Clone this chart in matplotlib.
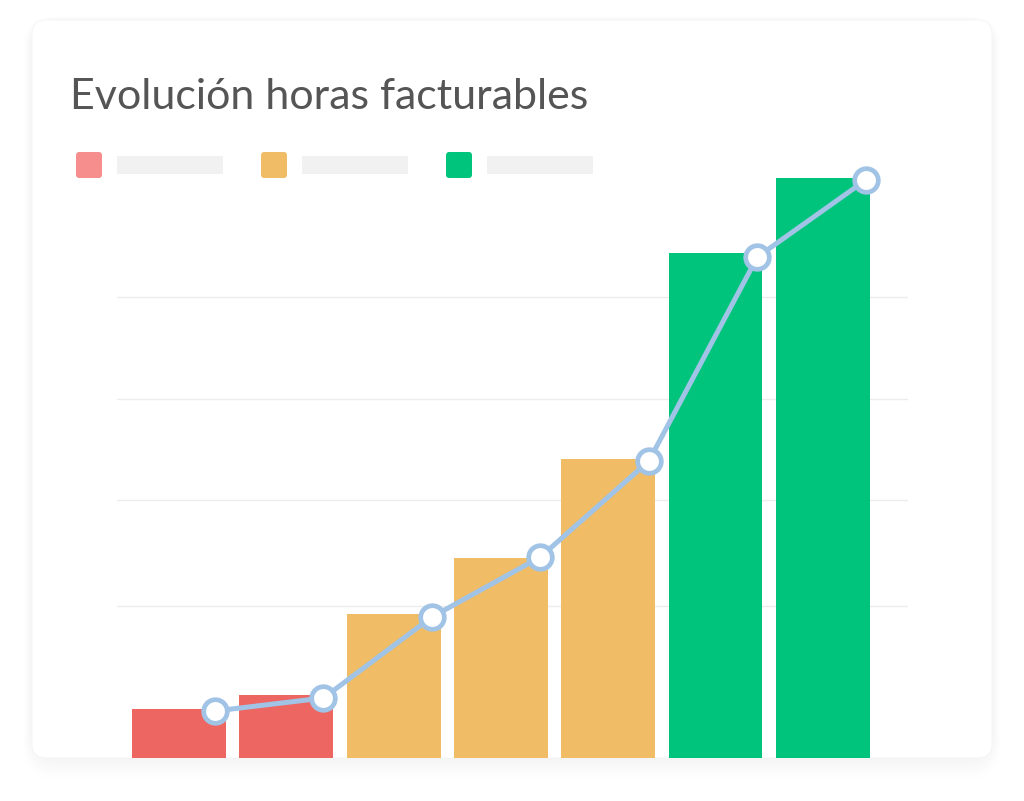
import matplotlib
matplotlib.use("Agg")
import matplotlib.pyplot as plt
from matplotlib.patches import FancyBboxPatch
import numpy as np

W, H = 1024, 801

# data (arbitrary units)
title = "Evolución horas facturables"
bar_values = [49, 63, 144, 200, 299, 505, 580]
line_values = [47, 60, 141, 201, 297, 501, 578]
bar_colors = ["#ee6661", "#ee6661", "#f0bd66", "#f0bd66", "#f0bd66", "#00c47c", "#00c47c"]
legend_colors = ["#f58e8c", "#f0bd66", "#00c47c"]
grid_levels = [152, 258, 359, 461]


def fx(px):
    return px / W


def fy(py):
    return 1 - py / H


fig = plt.figure(figsize=(W / 100, H / 100), dpi=100)
fig.patch.set_facecolor("white")

# card shadow + card (behind the axes)
for i, a in enumerate([0.004, 0.005, 0.006, 0.007, 0.008, 0.009]):
    grow = 18 - 3 * i
    sh = FancyBboxPatch((fx(32 - grow * 0.5), fy(758 + grow * 1.2)), fx(960 + grow), (738 + grow * 1.4) / H,
                        boxstyle="round,pad=0,rounding_size=0.03", transform=fig.transFigure,
                        facecolor="black", edgecolor="none", alpha=a, mutation_aspect=W / H, zorder=-3)
    fig.patches.append(sh)
card = FancyBboxPatch((fx(32), fy(758)), fx(960), 738 / H,
                      boxstyle="round,pad=0,rounding_size=0.014", transform=fig.transFigure,
                      facecolor="white", edgecolor="#f5f5f5", linewidth=0.6, mutation_aspect=W / H,
                      zorder=-2)
fig.patches.append(card)

fig.text(fx(70), fy(97), title, fontsize=31, color="#555555", family="Lato",
         ha="left", va="center")

# legend with placeholder labels
for i, c in enumerate(legend_colors):
    x0 = 76 + i * 185
    sq = FancyBboxPatch((fx(x0), fy(178)), fx(26), 26 / H, transform=fig.transFigure,
                        boxstyle="round,pad=0,rounding_size=0.003", facecolor=c, edgecolor="none",
                        mutation_aspect=W / H)
    fig.patches.append(sq)
    ph = FancyBboxPatch((fx(x0 + 41), fy(174)), fx(106), 18 / H, transform=fig.transFigure,
                        boxstyle="square,pad=0", facecolor="#f1f1f1", edgecolor="none")
    fig.patches.append(ph)

ax = fig.add_axes([fx(117), fy(758), fx(908 - 117), (758 - 160) / H])
ax.set_facecolor("none")
x = np.arange(len(bar_values))
ax.bar(x, bar_values, width=0.875, color=bar_colors, zorder=2)
# the line sits on a slightly wider spacing, shifted right of the bars
line_x = x * 1.011 + 0.335
ax.plot(line_x, line_values, color="#a0c3e6", linewidth=3.6, marker="o",
        markersize=17, markerfacecolor="white", markeredgecolor="#a0c3e6",
        markeredgewidth=3.4, zorder=3, clip_on=False)

ax.set_xlim(-0.578, 6.794)
ax.set_ylim(0, 598)
ax.set_yticks(grid_levels)
ax.yaxis.grid(True, color="#ececec", linewidth=1.0, zorder=0)
ax.set_axisbelow(True)
ax.tick_params(left=False, bottom=False, labelleft=False, labelbottom=False)
for s in ax.spines.values():
    s.set_visible(False)
ax.set_xticks([])

fig.savefig("out.png", dpi=100)
